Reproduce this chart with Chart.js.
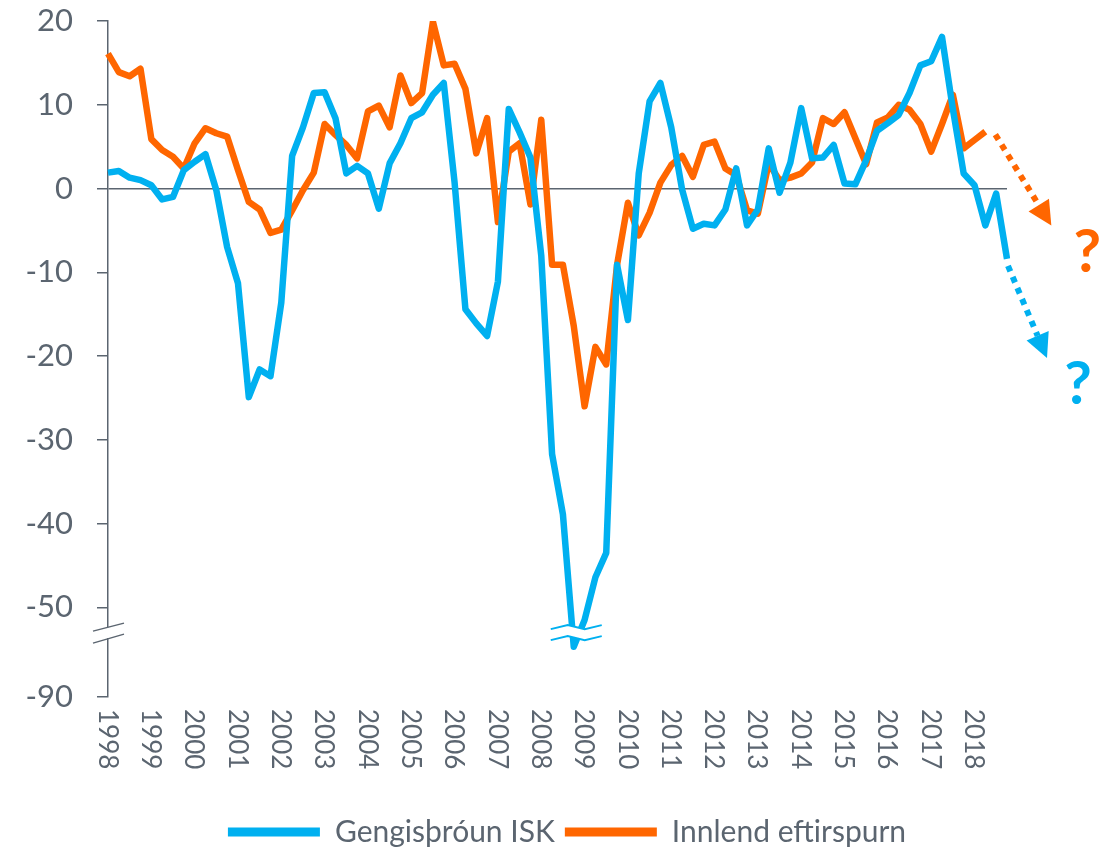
<!DOCTYPE html>
<html>
<head>
<meta charset="utf-8">
<script src="https://cdn.jsdelivr.net/npm/chart.js@4/dist/chart.umd.min.js"></script>
<style>
  html, body { margin: 0; padding: 0; background: #fff; }
  #wrap { width: 1112px; height: 849px; }
</style>
</head>
<body>
<div id="wrap"><canvas id="myChart"></canvas></div>
<script>
const years = [1998, 1999, 2000, 2001, 2002, 2003, 2004, 2005, 2006, 2007, 2008,
               2009, 2010, 2011, 2012, 2013, 2014, 2015, 2016, 2017, 2018];
const quarters = [];
years.forEach(y => ['Q1', 'Q2', 'Q3', 'Q4'].forEach(q => quarters.push(y + q)));

// Gengisþróun ISK, quarterly (values below -50 are on the compressed part of the axis)
const gengi = [
  1.9, 2.1, 1.3, 1.0,   0.4, -1.3, -1.0, 2.2,   3.2, 4.1, -0.2, -7.0,
  -11.3, -24.9, -21.6, -22.4,   -13.6, 3.9, 7.3, 11.4,   11.5, 8.4, 1.8, 2.7,
  1.8, -2.4, 3.0, 5.4,   8.4, 9.1, 11.2, 12.6,   0.7, -14.4, -16.1, -17.6,
  -11.1, 9.5, 6.7, 3.7,   -8.0, -31.7, -38.9, -54.7,   -51.5, -46.4, -43.5, -9.1,
  -15.7, 1.8, 10.4, 12.6,   7.3, -0.1, -4.8, -4.2,   -4.4, -2.5, 2.4, -4.4,
  -2.5, 4.8, -0.5, 3.1,   9.6, 3.6, 3.7, 5.2,   0.6, 0.5, 3.4, 6.9,
  7.8, 8.8, 11.4, 14.7,   15.2, 18.1, 9.5, 1.8,   0.4, -4.4, -0.6, -8.4
];

// Innlend eftirspurn, quarterly
const innlend = [
  16.1, 13.9, 13.4, 14.3,   5.9, 4.6, 3.8, 2.4,   5.4, 7.2, 6.6, 6.2,
  2.2, -1.6, -2.5, -5.3,   -4.9, -2.6, -0.2, 1.9,   7.7, 6.4, 5.2, 3.6,
  9.2, 9.9, 7.3, 13.5,   10.2, 11.4, 19.9, 14.7,   14.9, 11.9, 4.2, 8.4,
  -4.0, 4.4, 5.4, -1.9,   8.2, -9.1, -9.1, -16.4,   -26.0, -18.9, -21.0, -9.1,
  -1.7, -5.6, -2.9, 0.7,   2.8, 3.9, 1.4, 5.2,   5.6, 2.4, 1.6, -2.6,
  -3.0, 3.0, 1.0, 1.3,   1.8, 3.1, 8.4, 7.7,   9.1, 6.0, 2.9, 7.9,
  8.5, 10.0, 9.4, 7.7,   4.4, 7.7, 11.2, 4.8,   5.8, 6.8, null, null
];

// y ticks: position on the axis and the label shown there (axis is broken below -50)
const yTickPos = [20, 10, 0, -10, -20, -30, -40, -50, -60.7];
const yTickLabels = ['20', '10', '0', '-10', '-20', '-30', '-40', '-50', '-90'];
const breakPos = -52.6;

const blue = '#00b0f0';
const orange = '#ff6600';
const grey = '#5b6570';
const font = 'Lato, "Open Sans", sans-serif';

const overlay = {
  id: 'overlay',
  afterDraw(chart) {
    const c = chart.ctx;
    const x = chart.scales.x, y = chart.scales.y;
    const ax = chart.chartArea.left;
    const by = y.getPixelForValue(breakPos);

    // break on the y axis
    c.save();
    c.fillStyle = '#fff';
    c.fillRect(ax - 3, by - 2, 6, 11);
    c.strokeStyle = grey;
    c.lineWidth = 1.5;
    c.beginPath();
    c.moveTo(ax - 15, by + 2); c.lineTo(ax + 16, by - 6);
    c.moveTo(ax - 15, by + 14); c.lineTo(ax + 16, by + 5);
    c.stroke();

    // break on the blue line
    const bx = x.getPixelForValue(gengi.indexOf(Math.min(...gengi)));
    const zig = (dy) => [[bx - 23, by + dy], [bx - 6, by - 4 + dy], [bx + 11, by + dy], [bx + 28, by - 4 + dy]];
    const top = zig(0), bot = zig(11);
    c.fillStyle = '#fff';
    c.beginPath();
    top.forEach((p, i) => i ? c.lineTo(p[0], p[1]) : c.moveTo(p[0], p[1]));
    bot.slice().reverse().forEach(p => c.lineTo(p[0], p[1]));
    c.closePath();
    c.fill();
    c.strokeStyle = blue;
    c.lineWidth = 2;
    [top, bot].forEach(line => {
      c.beginPath();
      line.forEach((p, i) => i ? c.lineTo(p[0], p[1]) : c.moveTo(p[0], p[1]));
      c.stroke();
    });

    // rotated year labels
    c.fillStyle = grey;
    c.font = '26px ' + font;
    c.textAlign = 'left';
    c.textBaseline = 'middle';
    quarters.forEach((q, i) => {
      if (!q.endsWith('Q1')) return;
      c.save();
      c.translate(x.getPixelForValue(i) - 1, y.bottom + 12);
      c.rotate(Math.PI / 2);
      c.fillText(q.slice(0, 4), 0, 0);
      c.restore();
    });

    // dotted arrows and question marks
    const arrow = (x0, y0, x1, y1, col) => {
      const ang = Math.atan2(y1 - y0, x1 - x0);
      const hl = 24, hw = 12;
      const ex = x1 - hl * Math.cos(ang), ey = y1 - hl * Math.sin(ang);
      c.strokeStyle = col;
      c.lineWidth = 6;
      c.setLineDash([6, 6]);
      c.beginPath(); c.moveTo(x0, y0); c.lineTo(ex, ey); c.stroke();
      c.setLineDash([]);
      c.fillStyle = col;
      c.beginPath();
      c.moveTo(x1, y1);
      c.lineTo(ex + hw * Math.sin(ang), ey - hw * Math.cos(ang));
      c.lineTo(ex - hw * Math.sin(ang), ey + hw * Math.cos(ang));
      c.closePath(); c.fill();
    };
    const oi = innlend.findLastIndex(v => v !== null);
    const ox = x.getPixelForValue(oi), oy = y.getPixelForValue(innlend[oi]);
    arrow(ox + 10, oy + 3, ox + 66, oy + 94, orange);
    const gi = gengi.length - 1;
    const gx = x.getPixelForValue(gi), gy = y.getPixelForValue(gengi[gi]);
    arrow(gx + 1, gy + 7, gx + 40, gy + 99, blue);

    c.font = 'bold 60px ' + font;
    c.textAlign = 'center';
    c.textBaseline = 'alphabetic';
    c.fillStyle = orange;
    c.fillText('?', ox + 102, oy + 140);
    c.fillStyle = blue;
    c.fillText('?', gx + 71, gy + 145);
    c.restore();
  }
};

new Chart(document.getElementById('myChart'), {
  type: 'line',
  data: {
    labels: quarters,
    datasets: [
      { label: 'Gengisþróun ISK', data: gengi, borderColor: blue, backgroundColor: blue },
      { label: 'Innlend eftirspurn', data: innlend, borderColor: orange, backgroundColor: orange }
    ]
  },
  options: {
    responsive: true,
    maintainAspectRatio: false,
    animation: false,
    layout: { padding: { top: 0, right: 0, left: 22, bottom: -8 } },
    elements: {
      line: { borderWidth: 6.5, tension: 0, borderJoinStyle: 'round' },
      point: { radius: 0 }
    },
    scales: {
      x: {
        grid: { display: false },
        border: { display: false },
        ticks: { display: false },
        afterFit: s => { s.height = 110; }
      },
      y: {
        min: -60.7,
        max: 20,
        afterBuildTicks: s => { s.ticks = yTickPos.map(v => ({ value: v })); },
        afterFit: s => { s.width = 86; s.paddingTop = 21; s.paddingBottom = 0; },
        ticks: {
          color: grey,
          padding: 24,
          font: { family: font, size: 31 },
          callback: v => yTickLabels[yTickPos.indexOf(v)]
        },
        grid: {
          drawOnChartArea: true,
          color: c => c.tick && c.tick.value === 0 ? grey : 'transparent',
          tickColor: grey,
          tickLength: 11,
          lineWidth: 1.5
        },
        border: { display: true, color: grey, width: 1.5 }
      },
      // empty right-hand space for the arrows and question marks
      yRight: {
        position: 'right',
        grid: { display: false },
        border: { display: false },
        ticks: { display: false },
        afterFit: s => { s.width = 105; s.paddingTop = 0; s.paddingBottom = 0; }
      }
    },
    plugins: {
      tooltip: { enabled: false },
      legend: {
        position: 'bottom',
        labels: {
          color: grey,
          font: { family: font, size: 30 },
          boxWidth: 92,
          boxHeight: 9,
          padding: 10,
          generateLabels: chart => Chart.defaults.plugins.legend.labels.generateLabels(chart)
            .map(l => Object.assign(l, { lineWidth: 0, fillStyle: l.strokeStyle }))
        }
      }
    }
  },
  plugins: [overlay]
});
</script>
</body>
</html>
